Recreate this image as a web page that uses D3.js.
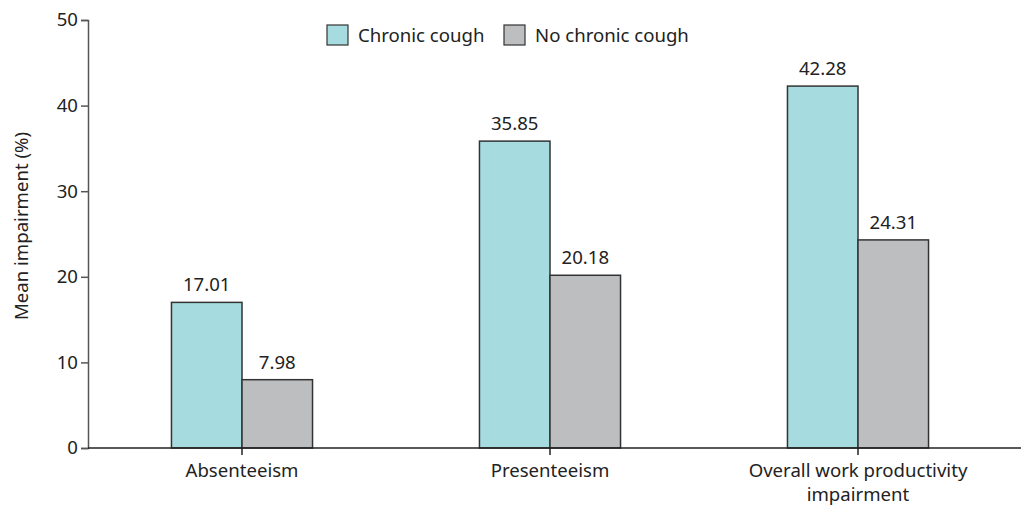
<!DOCTYPE html>
<html>
<head>
<meta charset="utf-8">
<script src="https://cdn.jsdelivr.net/npm/d3@7"></script>
<style>
  html, body { margin: 0; padding: 0; background: #fff; }
  svg { display: block; }
  text { font-family: "Noto Sans", sans-serif; fill: #222; }
</style>
</head>
<body>
<svg id="chart" width="1021" height="506"></svg>
<script>
// Work productivity impairment by cough status
const categories = ["Absenteeism", "Presenteeism", "Overall work productivity impairment"];
const categoryLines = [["Absenteeism"], ["Presenteeism"], ["Overall work productivity", "impairment"]];
const seriesNames = ["Chronic cough", "No chronic cough"];
const chronicCough = [17.01, 35.85, 42.28];
const noChronicCough = [7.98, 20.18, 24.31];
const yTicks = [0, 10, 20, 30, 40, 50];
const seriesColors = ["#a6dcdf", "#bdbec0"];

const svg = d3.select("#chart");
const fontSize = 18.6;
const fontFamily = "'Noto Sans', sans-serif";

const x = d3.scaleBand().domain(categories).range([88, 1012]).paddingInner(0.542).paddingOuter(0.271);
const xSub = d3.scaleBand().domain(seriesNames).range([0, x.bandwidth()]);
const y = d3.scaleLinear().domain([0, 50]).range([448, 20]);
const color = d3.scaleOrdinal().domain(seriesNames).range(seriesColors);

const rows = categories.map((c, i) => ({
  category: c,
  values: [
    { series: seriesNames[0], value: chronicCough[i] },
    { series: seriesNames[1], value: noChronicCough[i] }
  ]
}));

// Bars
const groups = svg.append("g").selectAll("g").data(rows).join("g")
  .attr("transform", d => `translate(${x(d.category)},0)`);

groups.selectAll("rect").data(d => d.values).join("rect")
  .attr("x", d => xSub(d.series))
  .attr("y", d => y(d.value))
  .attr("width", xSub.bandwidth())
  .attr("height", d => y(0) - y(d.value))
  .attr("fill", d => color(d.series))
  .attr("stroke", "#333")
  .attr("stroke-width", 1.5);

// Value labels
groups.selectAll("text.val").data(d => d.values).join("text")
  .attr("class", "val")
  .attr("x", d => xSub(d.series) + xSub.bandwidth() / 2)
  .attr("y", d => y(d.value) - 11)
  .attr("text-anchor", "middle")
  .style("font-size", fontSize + "px")
  .text(d => d.value.toFixed(2));

// Y axis
const yAxis = svg.append("g")
  .attr("transform", "translate(88,0)")
  .call(d3.axisLeft(y).tickValues(yTicks).tickSize(7).tickPadding(3));
yAxis.select(".domain").attr("stroke", "#555").attr("stroke-width", 1.5);
yAxis.selectAll(".tick line").attr("stroke", "#555").attr("stroke-width", 1.5);
yAxis.selectAll(".tick text").style("font-size", fontSize + "px").style("font-family", fontFamily).attr("fill", "#222");

// X axis
const xAxis = svg.append("g")
  .attr("transform", `translate(0,${y(0)})`)
  .call(d3.axisBottom(x).tickSize(7).tickFormat(""));
xAxis.select(".domain").remove();
xAxis.selectAll(".tick line").attr("stroke", "#222").attr("stroke-width", 1.5);
xAxis.append("line")
  .attr("x1", 88).attr("x2", 1021)
  .attr("y1", 0).attr("y2", 0)
  .attr("stroke", "#222").attr("stroke-width", 1.5);

// Category labels
svg.append("g").selectAll("text").data(categories).join("text")
  .attr("x", d => x(d) + x.bandwidth() / 2)
  .attr("y", 477)
  .attr("text-anchor", "middle")
  .style("font-size", fontSize + "px")
  .each(function(d, i) {
    d3.select(this).selectAll("tspan").data(categoryLines[i]).join("tspan")
      .attr("x", x(d) + x.bandwidth() / 2)
      .attr("dy", (t, j) => j === 0 ? 0 : 24)
      .text(t => t);
  });

// Y axis title
svg.append("text")
  .attr("transform", "translate(28,226) rotate(-90)")
  .attr("text-anchor", "middle")
  .style("font-size", fontSize + "px")
  .text("Mean impairment (%)");

// Legend
const legendX = [327, 504];
const legend = svg.append("g").selectAll("g").data(seriesNames).join("g")
  .attr("transform", (d, i) => `translate(${legendX[i]},25)`);
legend.append("rect")
  .attr("width", 21).attr("height", 20)
  .attr("fill", d => color(d))
  .attr("stroke", "#333").attr("stroke-width", 1.2);
legend.append("text")
  .attr("x", 31).attr("y", 17)
  .style("font-size", fontSize + "px")
  .text(d => d);
</script>
</body>
</html>
